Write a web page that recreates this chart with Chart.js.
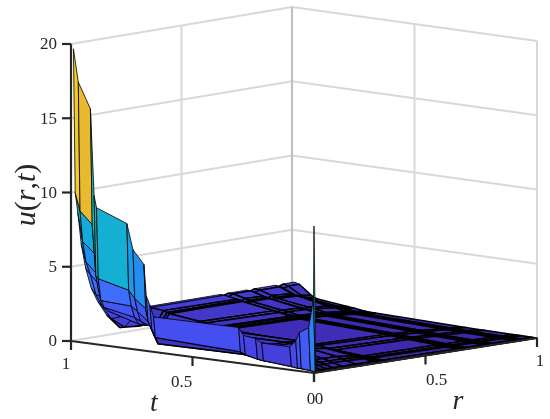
<!DOCTYPE html>
<html>
<head>
<meta charset="utf-8">
<title>u(r,t)</title>
<script src="https://cdn.jsdelivr.net/npm/chart.js@4"></script>
<style>
    html, body { margin: 0; padding: 0; background: #fff; }
    canvas { display: block; filter: blur(0.35px); }
</style>
</head>
<body>
<canvas id="chart" width="550" height="419"></canvas>
<script>
// Axis ticks
const uTicks = [0, 5, 10, 15, 20];
const tTicks = [1, 0.5, 0];
const rTicks = [0, 0.5, 1];

// Surface grid, t runs from the back wall to the front
const tGrid = [0.99, 0.97, 0.92, 0.905, 0.895, 0.77, 0.745, 0.70, 0.69, 0.675, 0.66, 0.31, 0.29, 0.24, 0.215, 0.1, 0.075, 0.06, 0.022, 0.002, 0];
const rGrid = [0, 0.008, 0.02, 0.035, 0.055, 0.08, 0.11, 0.15, 0.21, 0.29, 0.31, 0.33, 0.66, 0.68, 0.70, 0.78, 0.80, 0.82, 0.91, 0.93, 0.95, 1];

// One row of u per value of t
const u099 = [19.7, 10, 8.6, 6.5, 4.8, 3.4, 2.4, 1.4, 0.4, 0.3, 0.9, 1.5, 1.5, 1.4, 1.5, 1.5, 1.4, 1.5, 1.5, 1.4, 1.5, 1.5];
const u097 = [17.5, 8.8, 6.7, 5.3, 4.4, 3.0, 2.1, 1.2, 0.5, 0.4, 1.0, 1.5, 1.5, 1.35, 1.5, 1.5, 1.35, 1.45, 1.45, 1.3, 1.4, 1.4];
const u092 = [15.8, 8, 6, 4.5, 3.6, 2.8, 1.8, 1.5, 1.5, 0.6, 0.9, 1.4, 1.35, 1.15, 1.3, 1.25, 1.05, 1.2, 1.1, 0.9, 0.9, 0.75];
const u0905 = [10, 4.6, 3.6, 3.0, 2.6, 2.2, 1.7, 1.5, 1.5, 0.6, 0.9, 1.3, 1.3, 1.15, 1.2, 1.2, 1.05, 1.1, 1.05, 0.85, 0.8, 0.62];
const u0895 = [9.2, 4.4, 2.9, 2.4, 2.1, 1.9, 1.6, 1.5, 1.5, 0.6, 0.85, 1.25, 1.25, 1.1, 1.15, 1.15, 1.0, 1.05, 1.0, 0.8, 0.75, 0.58];
const u077 = [8.4, 3.9, 2.8, 2.0, 1.5, 1.5, 1.5, 1.5, 1.0, 0.9, 0.95, 1.0, 0.9, 0.8, 0.85, 0.8, 0.7, 0.75, 0.6, 0.5, 0.5, 0.35];
const u0745 = [6.7, 3.4, 2.5, 1.8, 1.5, 1.5, 1.5, 1.0, 1.0, 0.9, 0.9, 0.95, 0.85, 0.75, 0.8, 0.75, 0.65, 0.7, 0.55, 0.45, 0.45, 0.3];
const u070 = [5.8, 2.8, 1.9, 1.5, 1.5, 1.5, 1.0, 1.0, 0.95, 0.85, 0.85, 0.8, 0.7, 0.65, 0.65, 0.6, 0.55, 0.55, 0.4, 0.35, 0.3, 0.2];
const u069 = [3.7, 2.0, 1.5, 1.5, 1.0, 1.0, 1.0, 1.0, 0.95, 0.85, 0.8, 0.78, 0.68, 0.62, 0.62, 0.58, 0.52, 0.52, 0.38, 0.33, 0.28, 0.19];
const u0675 = [3.1, 1.5, 1.0, 0.9, 0.9, 0.9, 0.95, 0.95, 0.9, 0.85, 0.78, 0.74, 0.64, 0.6, 0.6, 0.55, 0.5, 0.5, 0.34, 0.3, 0.26, 0.18];
const u066 = [2.35, 0.95, 0.5, 0.6, 0.8, 0.9, 0.9, 0.9, 0.9, 0.8, 0.75, 0.7, 0.6, 0.55, 0.55, 0.5, 0.45, 0.45, 0.3, 0.27, 0.24, 0.17];
const u031 = [2.4, 0.75, 0.55, 0.6, 0.7, 0.8, 0.85, 0.9, 0.9, 0.75, 0.6, 0.45, 0.35, 0.32, 0.32, 0.25, 0.22, 0.22, 0.12, 0.1, 0.08, 0.05];
const u029 = [1.9, 0.6, 0.5, 0.55, 0.65, 0.75, 0.8, 0.85, 0.85, 0.7, 0.55, 0.42, 0.3, 0.28, 0.28, 0.2, 0.18, 0.18, 0.1, 0.08, 0.07, 0.04];
const u024 = [1.8, 0.4, 0.35, 0.4, 0.55, 0.65, 0.7, 0.8, 0.8, 0.6, 0.45, 0.35, 0.25, 0.22, 0.22, 0.17, 0.15, 0.15, 0.09, 0.07, 0.06, 0.03];
const u0215 = [1.55, 0.35, 0.3, 0.35, 0.45, 0.55, 0.6, 0.7, 0.7, 0.5, 0.38, 0.3, 0.22, 0.2, 0.2, 0.15, 0.13, 0.13, 0.08, 0.06, 0.05, 0.03];
const u01 = [1.55, 0.2, 0.2, 0.25, 0.3, 0.35, 0.4, 0.4, 0.4, 0.25, 0.2, 0.15, 0.1, 0.09, 0.09, 0.07, 0.06, 0.06, 0.04, 0.03, 0.02, 0.01];
const u0075 = [2.0, 0.15, 0.15, 0.2, 0.25, 0.3, 0.3, 0.3, 0.3, 0.2, 0.15, 0.12, 0.08, 0.07, 0.07, 0.05, 0.05, 0.05, 0.03, 0.02, 0.02, 0.01];
const u006 = [2.6, 0.15, 0.12, 0.15, 0.2, 0.2, 0.2, 0.2, 0.2, 0.15, 0.12, 0.1, 0.06, 0.05, 0.05, 0.04, 0.04, 0.04, 0.02, 0.02, 0.01, 0.01];
const u0022 = [3.0, 0.1, 0.05, 0.05, 0.05, 0.05, 0.05, 0.05, 0.05, 0.04, 0.04, 0.03, 0.02, 0.02, 0.02, 0.01, 0.01, 0.01, 0.01, 0, 0, 0];
const u0002 = [5.0, 0.05, 0.01, 0.01, 0.01, 0.01, 0.01, 0.01, 0.01, 0, 0, 0, 0, 0, 0, 0, 0, 0, 0, 0, 0, 0];
const u000 = [9.9, 0, 0, 0, 0, 0, 0, 0, 0, 0, 0, 0, 0, 0, 0, 0, 0, 0, 0, 0, 0, 0];
const uRows = [u099, u097, u092, u0905, u0895, u077, u0745, u070, u069, u0675, u066, u031, u029, u024, u0215, u01, u0075, u006, u0022, u0002, u000];

// Parula colour stops from u = 0 to u = 20
const parula = ['#3e26a8', '#4747eb', '#3e6ffd', '#2090f0', '#12acdc', '#22bdb0', '#62c66e', '#b5bd3a', '#efba2f', '#f5d020', '#f9fb15'];

// View of the box: pixel position of the four floor corners
const floorCorners = {
    backLeft: [71, 341],   // r = 0, t = 1
    backMid: [292, 304],   // r = 1, t = 1
    front: [314, 373],     // r = 0, t = 0
    right: [537, 338]      // r = 1, t = 0
};
const uPixels = 14.85;

function project(r, t, u) {
    const c = floorCorners;
    const x = (1 - r) * (t * c.backLeft[0] + (1 - t) * c.front[0]) + r * (t * c.backMid[0] + (1 - t) * c.right[0]);
    const y = (1 - r) * (t * c.backLeft[1] + (1 - t) * c.front[1]) + r * (t * c.backMid[1] + (1 - t) * c.right[1]);
    return { x: x, y: y - u * uPixels };
}

function colorFor(u) {
    const pos = Math.max(0, Math.min(1, u / 20)) * (parula.length - 1);
    const i = Math.min(parula.length - 2, Math.floor(pos));
    const a = parseInt(parula[i].slice(1), 16);
    const b = parseInt(parula[i + 1].slice(1), 16);
    const f = pos - i;
    const mix = shift => Math.round(((a >> shift) & 255) * (1 - f) + ((b >> shift) & 255) * f);
    return `rgb(${mix(16)},${mix(8)},${mix(0)})`;
}

function lineSet(points, color, width) {
    return {
        data: points,
        showLine: true,
        fill: false,
        borderColor: color,
        borderWidth: width,
        pointRadius: 0,
        borderCapStyle: 'butt'
    };
}

// Walls, floor edge and black axes
function buildBox() {
    const sets = [];
    const grid = '#d8d8d8';
    uTicks.forEach(u => {
        sets.push(lineSet([project(0, 1, u), project(1, 1, u), project(1, 0, u)], grid, 2));
    });
    sets.push(lineSet([project(1, 1, 0), project(1, 1, 20)], '#c0c0c0', 2.2));
    sets.push(lineSet([project(0.5, 1, 0), project(0.5, 1, 20)], grid, 2));
    sets.push(lineSet([project(1, 0.5, 0), project(1, 0.5, 20)], grid, 2));
    sets.push(lineSet([project(1, 0, 0), project(1, 0, 20)], grid, 2));
    return sets;
}

function buildAxes() {
    const sets = [];
    const dark = '#262626';
    sets.push(lineSet([project(0, 1, 0), project(0, 1, 20)], dark, 2.2));
    sets.push(lineSet([project(0, 1, 0), project(0, 0, 0), project(1, 0, 0)], dark, 2.2));
    uTicks.forEach(u => {
        const p = project(0, 1, u);
        sets.push(lineSet([p, { x: p.x - 9, y: p.y }], dark, 2.2));
    });
    tTicks.forEach(t => {
        const p = project(0, t, 0);
        sets.push(lineSet([p, { x: p.x, y: p.y + 9 }], dark, 2.2));
    });
    rTicks.forEach(r => {
        const p = project(r, 0, 0);
        sets.push(lineSet([p, { x: p.x, y: p.y + 9 }], dark, 2.2));
    });
    return sets;
}

// One closed polygon per grid cell, listed from the far corner to the near one
function buildSurface() {
    const sets = [];
    for (let i = 0; i < tGrid.length - 1; i++) {
        for (let j = rGrid.length - 2; j >= 0; j--) {
            const first = project(rGrid[j], tGrid[i], uRows[i][j]);
            const points = [
                first,
                project(rGrid[j + 1], tGrid[i], uRows[i][j + 1]),
                project(rGrid[j + 1], tGrid[i + 1], uRows[i + 1][j + 1]),
                project(rGrid[j], tGrid[i + 1], uRows[i + 1][j]),
                first
            ];
            const value = uRows[i + 1][j];
            sets.push({
                data: points,
                showLine: true,
                fill: 'shape',
                backgroundColor: colorFor(value),
                borderColor: '#000',
                // the low flat part reads as heavier black bands
                borderWidth: value < 1.4 ? 1.5 : 0.8,
                borderJoinStyle: 'round',
                pointRadius: 0
            });
        }
    }
    return sets;
}

// Tick labels and axis titles
const tLabelOffsets = [[-5, 24], [-11, 26], [-3, 27]];
const rLabelOffsets = [[5, 27], [11, 25], [3, 24]];

const labelPlugin = {
    id: 'labelPlugin',
    afterDraw(chart) {
        const ctx = chart.ctx;
        const sx = v => chart.scales.x.getPixelForValue(v);
        const sy = v => chart.scales.y.getPixelForValue(v);
        const serif = '"Liberation Serif", "Times New Roman", serif';
        ctx.save();
        ctx.fillStyle = '#262626';
        ctx.font = `17px ${serif}`;
        ctx.textBaseline = 'middle';

        ctx.textAlign = 'right';
        uTicks.forEach(u => {
            const p = project(0, 1, u);
            ctx.fillText(String(u), sx(p.x - 14), sy(p.y + 1));
        });

        ctx.textAlign = 'center';
        tTicks.forEach((t, i) => {
            const p = project(0, t, 0);
            ctx.fillText(String(t), sx(p.x + tLabelOffsets[i][0]), sy(p.y + tLabelOffsets[i][1]));
        });
        rTicks.forEach((r, i) => {
            const p = project(r, 0, 0);
            ctx.fillText(String(r), sx(p.x + rLabelOffsets[i][0]), sy(p.y + rLabelOffsets[i][1]));
        });

        ctx.font = `italic 28px ${serif}`;
        ctx.fillText('t', sx(154), sy(404));
        ctx.fillText('r', sx(458), sy(402));

        // Rotated u(r,t), italic letters and upright brackets
        const parts = [['u', true], ['(', false], ['r', true], [',', false], ['t', true], [')', false]];
        const fontOf = italic => `${italic ? 'italic ' : ''}30px ${serif}`;
        let total = 0;
        parts.forEach(p => {
            ctx.font = fontOf(p[1]);
            total += ctx.measureText(p[0]).width;
        });
        ctx.translate(sx(27), sy(195));
        ctx.rotate(-Math.PI / 2);
        ctx.textAlign = 'left';
        let pos = -total / 2;
        parts.forEach(p => {
            ctx.font = fontOf(p[1]);
            ctx.fillText(p[0], pos, 0);
            pos += ctx.measureText(p[0]).width;
        });
        ctx.restore();
    }
};

function createChart() {
    // Chart.js paints the first dataset last, so the order is reversed here
    const painted = [...buildBox(), ...buildSurface(), ...buildAxes()];
    new Chart(document.getElementById('chart'), {
        type: 'scatter',
        data: { datasets: painted.reverse() },
        options: {
            responsive: false,
            animation: false,
            clip: false,
            layout: { padding: 0 },
            plugins: { legend: { display: false }, tooltip: { enabled: false } },
            scales: {
                x: { type: 'linear', min: 0, max: 550, display: false },
                y: { type: 'linear', min: 0, max: 419, reverse: true, display: false }
            }
        },
        plugins: [labelPlugin]
    });
}

createChart();
</script>
</body>
</html>
